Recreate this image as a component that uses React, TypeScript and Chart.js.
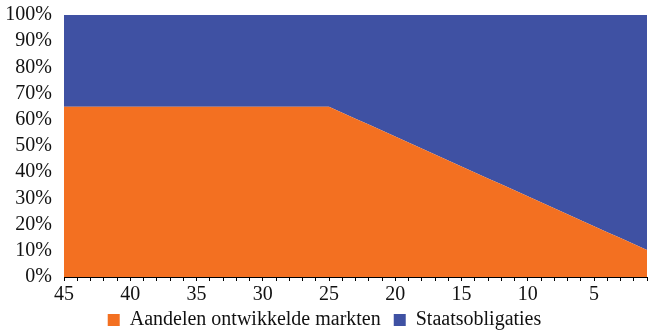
import React, { useEffect, useRef } from "react";
import { Chart, registerables } from "chart.js";

Chart.register(...registerables);

const years: number[] = [
  45, 44, 43, 42, 41, 40, 39, 38, 37, 36, 35, 34, 33, 32, 31, 30, 29, 28, 27, 26, 25,
  24, 23, 22, 21, 20, 19, 18, 17, 16, 15, 14, 13, 12, 11, 10, 9, 8, 7, 6, 5, 4, 3, 2, 1,
];

const aandelen: number[] = [
  65, 65, 65, 65, 65, 65, 65, 65, 65, 65, 65, 65, 65, 65, 65, 65, 65, 65, 65, 65, 65,
  62.72, 60.44, 58.16, 55.88, 53.6, 51.32, 49.04, 46.76, 44.48, 42.2, 39.92, 37.64,
  35.36, 33.08, 30.8, 28.52, 26.24, 23.96, 21.68, 19.4, 17.12, 14.84, 12.56, 10.28,
];

const staatsobligaties: number[] = [
  35, 35, 35, 35, 35, 35, 35, 35, 35, 35, 35, 35, 35, 35, 35, 35, 35, 35, 35, 35, 35,
  37.28, 39.56, 41.84, 44.12, 46.4, 48.68, 50.96, 53.24, 55.52, 57.8, 60.08, 62.36,
  64.64, 66.92, 69.2, 71.48, 73.76, 76.04, 78.32, 80.6, 82.88, 85.16, 87.44, 89.72,
];

const seriesNames = ["Aandelen ontwikkelde markten", "Staatsobligaties"];
const xTickLabels = ["45", "40", "35", "30", "25", "20", "15", "10", "5"];

const ORANGE = "#F37021";
const BLUE = "#3F51A3";
const FONT = "'Liberation Serif', 'DejaVu Serif', serif";

export default function App() {
  const ref = useRef<HTMLCanvasElement | null>(null);

  useEffect(() => {
    document.body.style.margin = "0";
    const ctx = ref.current!;
    const chart = new Chart(ctx, {
      type: "line",
      data: {
        labels: years.map(String),
        datasets: [
          {
            label: seriesNames[0],
            data: aandelen,
            backgroundColor: ORANGE,
            borderColor: ORANGE,
            borderWidth: 0,
            pointRadius: 0,
            fill: "origin",
            tension: 0,
          },
          {
            label: seriesNames[1],
            data: staatsobligaties,
            backgroundColor: BLUE,
            borderColor: BLUE,
            borderWidth: 0,
            pointRadius: 0,
            fill: "-1",
            tension: 0,
          },
        ],
      },
      options: {
        animation: false,
        responsive: false,
        maintainAspectRatio: false,
        layout: { padding: { top: 0, right: 0, left: 0, bottom: 0 } },
        plugins: {
          tooltip: { enabled: false },
          legend: {
            position: "bottom",
            maxHeight: 27,
            labels: {
              color: "#111",
              font: { family: FONT, size: 20 },
              boxWidth: 12,
              boxHeight: 12,
              padding: 3,
              generateLabels: (c: any) => {
                const items = Chart.defaults.plugins.legend.labels.generateLabels(c);
                items.forEach((it: any, i: number) => {
                  it.lineWidth = 0;
                  if (i === 0) it.text = it.text + "  ";
                });
                return items;
              },
            },
          },
        },
        scales: {
          x: {
            offset: false,
            grid: {
              display: true,
              drawOnChartArea: false,
              drawTicks: true,
              tickLength: 4,
              color: "#000",
            },
            border: { display: true, color: "#000", width: 1 },
            ticks: {
              autoSkip: false,
              maxRotation: 0,
              padding: 2,
              color: "#111",
              font: { family: FONT, size: 20 },
              callback: function (_v: any, i: number) {
                const l = String(years[i]);
                return xTickLabels.includes(l) ? l : "";
              },
            },
            afterFit: (s: any) => {
              s.height = 30;
            },
          },
          y: {
            stacked: true,
            min: 0,
            max: 100,
            grid: { display: false, drawTicks: false },
            border: { display: false },
            ticks: {
              autoSkip: false,
              stepSize: 10,
              padding: 12,
              color: "#111",
              font: { family: FONT, size: 20 },
              callback: (v: any) => v + "%",
            },
            afterFit: (s: any) => {
              s.width = 64;
              s.paddingTop = 15;
              s.paddingBottom = 0;
            },
          },
        },
      },
    });
    return () => chart.destroy();
  }, []);

  return (
    <div style={{ position: "fixed", left: 0, top: 0, width: 649, height: 334 }}>
      <canvas ref={ref} width={649} height={334} style={{ width: 649, height: 334 }} />
    </div>
  );
}
